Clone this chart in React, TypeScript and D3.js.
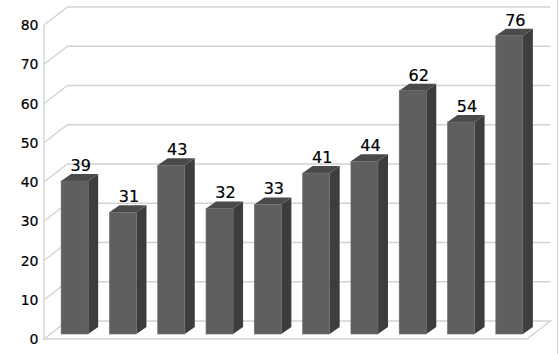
import React from "react";
import * as d3 from "d3";

const categories = ["1", "2", "3", "4", "5", "6", "7", "8", "9", "10"];
const values = [39, 31, 43, 32, 33, 41, 44, 62, 54, 76];
const ticks = [0, 10, 20, 30, 40, 50, 60, 70, 80];

const W = 559;
const H = 354;

export default function App() {
  const frontLeft = 44;
  const frontRight = 527;
  const depthX = 23.5;
  const depthY = 18;
  const yFront = d3.scaleLinear().domain([0, 80]).range([339, 25]);
  const yBack = (v: number) => yFront(v) - depthY;
  const barOffX = 6.5;
  const barOffY = 5;
  const yBar = (v: number) => yFront(v) - barOffY;
  const x = d3
    .scaleBand<string>()
    .domain(categories)
    .range([frontLeft + barOffX, frontRight + barOffX])
    .paddingInner(0.44)
    .paddingOuter(0.22);
  const bw = x.bandwidth();
  const bdx = 10;
  const bdy = 7;
  const grid = "#d2d2d2";
  const font = "'DejaVu Sans', Verdana, sans-serif";

  return (
    <svg width={W} height={H} style={{ position: "absolute", left: 0, top: 0, background: "#fff" }}>
      {/* right border */}
      <line x1={557.5} x2={557.5} y1={0} y2={H} stroke={grid} strokeWidth={1} />
      {/* gridlines */}
      {ticks.map((t) => (
        <g key={t}>
          {t > 0 && (
            <polyline
              points={`${frontLeft},${yFront(t)} ${frontLeft + depthX},${yBack(t)} ${frontRight + depthX},${yBack(t)}`}
              fill="none"
              stroke={grid}
              strokeWidth={1.3}
            />
          )}
          <text
            x={38.5}
            y={yFront(t)}
            textAnchor="end"
            dominantBaseline="central"
            fontFamily={font}
            fontSize={14}
            fill="#000"
            stroke="#000"
            strokeWidth={0.2}
          >
            {t}
          </text>
        </g>
      ))}
      {/* floor */}
      <polygon
        points={`${frontLeft},${yFront(0)} ${frontLeft + depthX},${yBack(0)} ${frontRight + depthX},${yBack(0)} ${frontRight},${yFront(0)}`}
        fill="#fff"
        stroke={grid}
        strokeWidth={1.3}
      />
      {/* left axis */}
      <line x1={frontLeft} x2={frontLeft} y1={yFront(80)} y2={yFront(0)} stroke={grid} strokeWidth={1.3} />
      {/* bars */}
      {categories.map((c, i) => {
        const v = values[i];
        const x0 = x(c) as number;
        const x1 = x0 + bw;
        const yt = yBar(v);
        const yb = yBar(0);
        return (
          <g key={c}>
            <polygon
              points={`${x1},${yt} ${x1 + bdx},${yt - bdy} ${x1 + bdx},${yb - bdy} ${x1},${yb}`}
              fill="#3d3d3d"
            />
            <polygon
              points={`${x0},${yt} ${x0 + bdx},${yt - bdy} ${x1 + bdx},${yt - bdy} ${x1},${yt}`}
              fill="#4a4a4a"
            />
            <rect x={x0} y={yt} width={bw} height={yb - yt} fill="#5f5f5f" stroke="#6b6b6b" strokeWidth={0.6} />
            <text
              x={x0 + bw / 2 + 6}
              y={yt - bdy - 3}
              textAnchor="middle"
              fontFamily={font}
              fontSize={16}
              fill="#000"
              stroke="#000"
              strokeWidth={0.2}
            >
              {v}
            </text>
          </g>
        );
      })}
    </svg>
  );
}
